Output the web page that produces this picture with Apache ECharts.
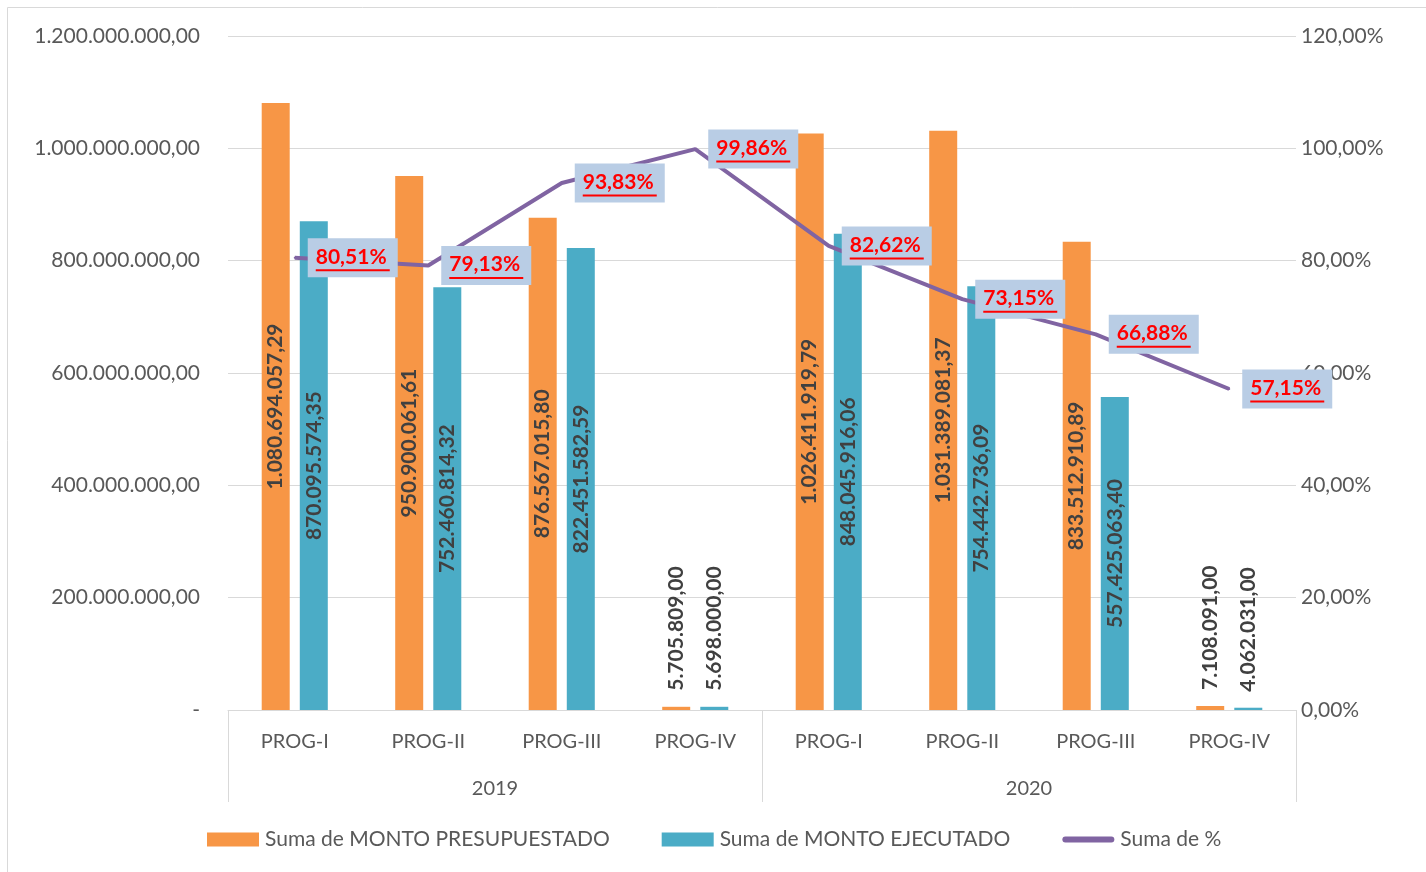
<!DOCTYPE html>
<html>
<head>
<meta charset="utf-8">
<script src="https://cdn.jsdelivr.net/npm/echarts@6/dist/echarts.min.js"></script>
<style>
    html, body { margin: 0; padding: 0; background: #fff; }
    #container { width: 1426px; height: 872px; }
</style>
</head>
<body>
<div id="container"></div>
<script>
    // datos del grafico
    var programas = ['PROG-I', 'PROG-II', 'PROG-III', 'PROG-IV', 'PROG-I', 'PROG-II', 'PROG-III', 'PROG-IV'];
    var anios = ['2019', '2020'];
    var montoPresupuestado = [1080694057.29, 950900061.61, 876567015.80, 5705809.00, 1026411919.79, 1031389081.37, 833512910.89, 7108091.00];
    var montoEjecutado = [870095574.35, 752460814.32, 822451582.59, 5698000.00, 848045916.06, 754442736.09, 557425063.40, 4062031.00];
    var porcentaje = [80.51, 79.13, 93.83, 99.86, 82.62, 73.15, 66.88, 57.15];
    var ticksMonto = [0, 200000000, 400000000, 600000000, 800000000, 1000000000, 1200000000];

    var FONT = 'Lato';
    var GRIS = '#595959';

    // formato es-ES: 1.234.567,89
    function fmt(v, dec) {
        var s = v.toFixed(dec);
        var parts = s.split('.');
        parts[0] = parts[0].replace(/\B(?=(\d{3})+(?!\d))/g, '.');
        return parts.join(',');
    }

    function barData(values) {
        var out = [];
        for (var i = 0; i < values.length; i++) {
            var item = {value: values[i]};
            // barras pequeñas: etiqueta encima
            if (values[i] < 100000000) {
                item.label = {position: 'top', align: 'left', verticalAlign: 'middle', distance: 16};
            }
            out.push(item);
        }
        return out;
    }

    var barLabel = {
        show: true,
        position: 'inside',
        rotate: 90,
        fontFamily: FONT,
        fontWeight: 'bold',
        fontSize: 21,
        color: '#404040',
        formatter: function (p) { return fmt(p.value, 2); }
    };

    var myChart = echarts.init(document.getElementById('container'));
    var option = {
        animation: false,
        textStyle: {fontFamily: FONT},
        graphic: [{
            type: 'rect',
            shape: {x: 7.5, y: 7.5, width: 1440, height: 900},
            style: {fill: 'none', stroke: '#D9D9D9', lineWidth: 1},
            silent: true
        }],
        legend: {
            bottom: 22,
            left: 207,
            padding: 0,
            itemWidth: 52,
            itemHeight: 14,
            itemGap: 52,
            textStyle: {fontFamily: FONT, fontSize: 21, color: GRIS, padding: [0, 0, 0, 1]},
            data: [
                {name: 'Suma de MONTO PRESUPUESTADO', icon: 'rect'},
                {name: 'Suma de MONTO EJECUTADO', icon: 'rect'},
                {name: 'Suma de %', icon: 'path://M3,0 L49,0 A3,3 0 0 1 49,6 L3,6 A3,3 0 0 1 3,0 Z'}
            ]
        },
        grid: {left: 228, right: 130, top: 36, bottom: 162},
        xAxis: [{
            type: 'category',
            data: programas,
            axisLine: {lineStyle: {color: '#D9D9D9'}},
            axisTick: {show: false},
            axisLabel: {fontFamily: FONT, fontSize: 20, color: GRIS, margin: 22}
        }, {
            type: 'category',
            data: anios,
            position: 'bottom',
            axisLine: {show: false},
            axisTick: {show: true, length: 92, lineStyle: {color: '#D9D9D9'}},
            axisLabel: {fontFamily: FONT, fontSize: 20, color: GRIS, margin: 69},
            splitLine: {show: false}
        }],
        yAxis: [{
            type: 'value',
            min: 0,
            max: 1200000000,
            interval: 200000000,
            axisLine: {show: false},
            axisTick: {show: false},
            splitLine: {lineStyle: {color: '#D9D9D9'}},
            axisLabel: {
                fontFamily: FONT, fontSize: 21, color: GRIS, margin: 28,
                formatter: function (v) { return v === ticksMonto[0] ? '-' : fmt(v, 2); }
            }
        }, {
            type: 'value',
            min: 0,
            max: 120,
            interval: 20,
            axisLine: {show: false},
            axisTick: {show: false},
            splitLine: {show: false},
            axisLabel: {
                fontFamily: FONT, fontSize: 21, color: GRIS, margin: 5,
                formatter: function (v) { return fmt(v, 2) + '%'; }
            }
        }],
        series: [{
            name: 'Suma de MONTO PRESUPUESTADO',
            type: 'bar',
            barWidth: 28,
            barGap: '36%',
            itemStyle: {color: '#F79646'},
            label: barLabel,
            data: barData(montoPresupuestado)
        }, {
            name: 'Suma de MONTO EJECUTADO',
            type: 'bar',
            barWidth: 28,
            itemStyle: {color: '#4BACC6'},
            label: barLabel,
            data: barData(montoEjecutado)
        }, {
            name: 'Suma de %',
            type: 'line',
            yAxisIndex: 1,
            z: 5,
            symbol: 'circle',
            symbolSize: 2,
            showSymbol: true,
            showAllSymbol: true,
            lineStyle: {color: '#8064A2', width: 4},
            itemStyle: {color: '#8064A2'},
            label: {
                show: true,
                position: 'right',
                distance: 12,
                backgroundColor: '#B9CDE5',
                padding: [7, 8, 5, 8],
                formatter: function (p) { return '{v|' + fmt(p.value, 2) + '%}\n{u|}'; },
                rich: {
                    v: {color: '#FF0000', fontFamily: FONT, fontWeight: 'bold', fontSize: 21, lineHeight: 23},
                    u: {width: 74, height: 2, backgroundColor: '#FF0000', lineHeight: 4}
                }
            },
            data: porcentaje
        }]
    };
    myChart.setOption(option);
</script>
</body>
</html>
